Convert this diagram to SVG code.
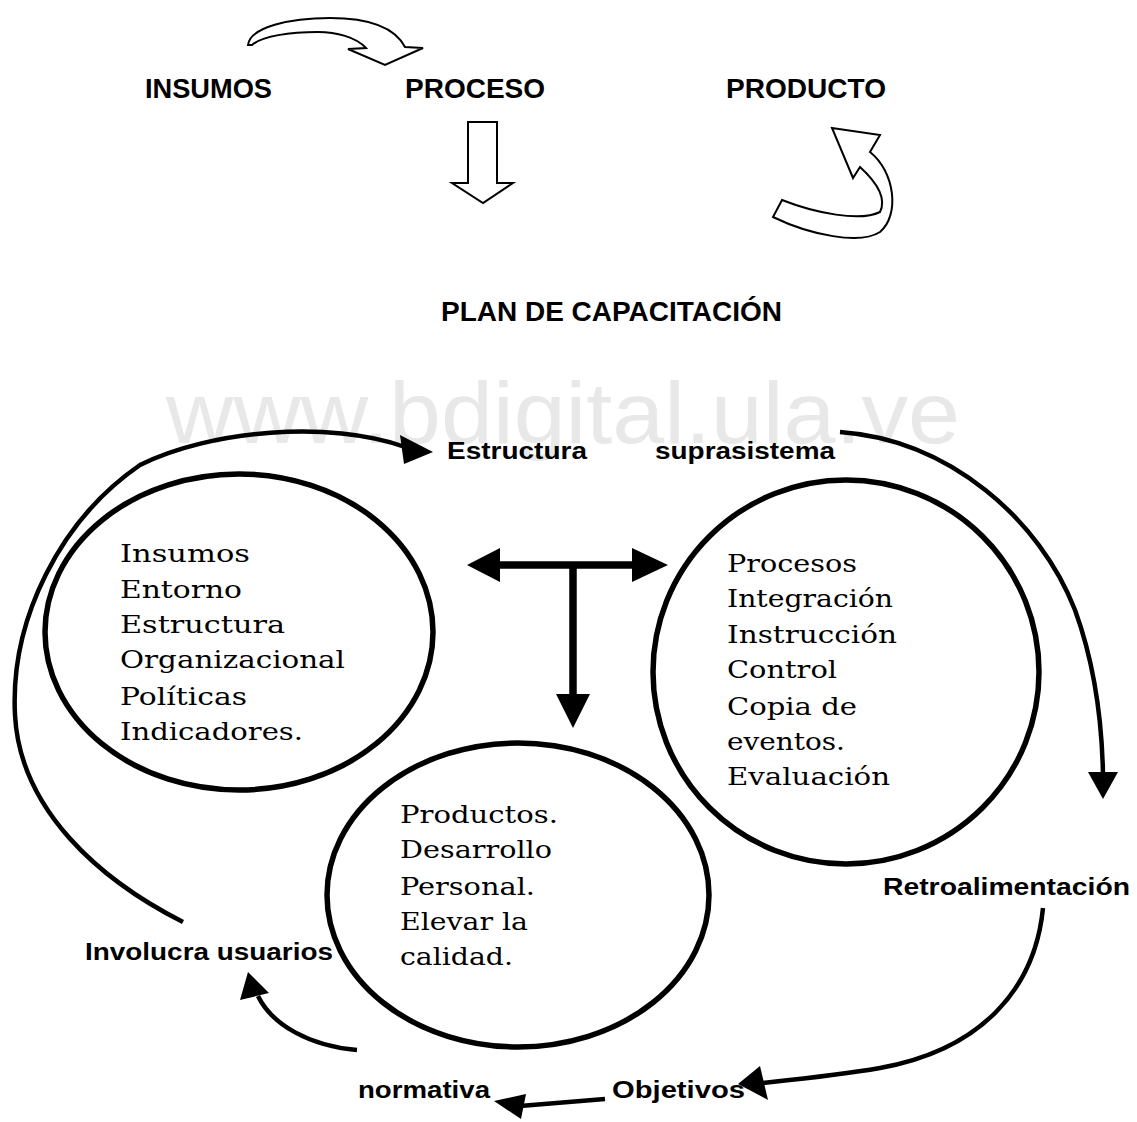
<svg xmlns="http://www.w3.org/2000/svg" width="1137" height="1122" viewBox="0 0 1137 1122">
  <style>
    .hdr { font-family: "Liberation Sans", Arial, sans-serif; font-weight: bold; font-size: 27px; fill: #000; }
    .lbl { font-family: "Liberation Sans", Arial, sans-serif; font-weight: bold; font-size: 23px; fill: #000; }
    .body { font-family: "DejaVu Serif", "Liberation Serif", serif; font-size: 25px; fill: #000; }
    .mark { font-family: "Liberation Sans", Arial, sans-serif; font-size: 88px; fill: #e8e8e8; }
    .ring { fill: none; stroke: #000; stroke-width: 5.5; }
    .hollow { fill: #fff; stroke: #000; stroke-width: 2; stroke-linejoin: miter; }
    .flow { fill: none; stroke: #000; stroke-width: 4.5; stroke-linecap: butt; }
    .bar { fill: none; stroke: #000; stroke-width: 7.5; }
    .head { fill: #000; stroke: none; }
  </style>

  <rect width="1137" height="1122" fill="#fff"/>

  <!-- watermark -->
  <text class="mark" x="166" y="443" textLength="794" lengthAdjust="spacingAndGlyphs">www.bdigital.ula.ve</text>

  <!-- header row: insumos / proceso / producto -->
  <g id="header">
    <text class="hdr" x="145" y="98" textLength="127" lengthAdjust="spacingAndGlyphs">INSUMOS</text>
    <text class="hdr" x="405" y="98" textLength="140" lengthAdjust="spacingAndGlyphs">PROCESO</text>
    <text class="hdr" x="726" y="98" textLength="160" lengthAdjust="spacingAndGlyphs">PRODUCTO</text>
    <!-- curved block arrow over the labels -->
    <path class="hollow" d="M248,45 C250,27 290,18 330,18 C370,18 395,28 405,47 L423,48 L385,65 L348,49 L366,48 C356,37 336,32 318,32 C290,32 262,36 252,45 Z"/>
    <!-- straight block arrow down -->
    <path class="hollow" d="M468,122 L497,122 L497,183 L513,183 L483,203 L452,183 L468,183 Z"/>
    <!-- curling block arrow under producto -->
    <path class="hollow" d="M782,200 C815,213 860,222 880,212 C888,196 872,178 860,167 L853,178 L832,128 L880,135 L870,152 C895,172 900,215 880,232 C860,245 810,235 773,217 Z"/>
  </g>

  <text id="title" class="hdr" x="441" y="321" font-size="25" textLength="341" lengthAdjust="spacingAndGlyphs">PLAN DE CAPACITACIÓN</text>

  <!-- node: insumos -->
  <g id="node-insumos">
    <ellipse class="ring" cx="239" cy="632" rx="194" ry="158"/>
    <text class="body" x="120" y="562" textLength="130" lengthAdjust="spacingAndGlyphs">Insumos</text>
    <text class="body" x="120" y="598" textLength="122" lengthAdjust="spacingAndGlyphs">Entorno</text>
    <text class="body" x="120" y="633" textLength="165" lengthAdjust="spacingAndGlyphs">Estructura</text>
    <text class="body" x="120" y="668" textLength="225" lengthAdjust="spacingAndGlyphs">Organizacional</text>
    <text class="body" x="120" y="705" textLength="127" lengthAdjust="spacingAndGlyphs">Políticas</text>
    <text class="body" x="120" y="740" textLength="183" lengthAdjust="spacingAndGlyphs">Indicadores.</text>
  </g>

  <!-- node: procesos -->
  <g id="node-procesos">
    <ellipse class="ring" cx="846" cy="672" rx="193" ry="192"/>
    <text class="body" x="727" y="572" textLength="130" lengthAdjust="spacingAndGlyphs">Procesos</text>
    <text class="body" x="727" y="607" textLength="166" lengthAdjust="spacingAndGlyphs">Integración</text>
    <text class="body" x="727" y="643" textLength="170" lengthAdjust="spacingAndGlyphs">Instrucción</text>
    <text class="body" x="727" y="678" textLength="110" lengthAdjust="spacingAndGlyphs">Control</text>
    <text class="body" x="727" y="715" textLength="130" lengthAdjust="spacingAndGlyphs">Copia de</text>
    <text class="body" x="727" y="750" textLength="118" lengthAdjust="spacingAndGlyphs">eventos.</text>
    <text class="body" x="727" y="785" textLength="163" lengthAdjust="spacingAndGlyphs">Evaluación</text>
  </g>

  <!-- node: productos -->
  <g id="node-productos">
    <ellipse class="ring" cx="518" cy="895" rx="191" ry="152"/>
    <text class="body" x="400" y="823" textLength="158" lengthAdjust="spacingAndGlyphs">Productos.</text>
    <text class="body" x="400" y="858" textLength="152" lengthAdjust="spacingAndGlyphs">Desarrollo</text>
    <text class="body" x="400" y="895" textLength="135" lengthAdjust="spacingAndGlyphs">Personal.</text>
    <text class="body" x="400" y="930" textLength="128" lengthAdjust="spacingAndGlyphs">Elevar la</text>
    <text class="body" x="400" y="965" textLength="113" lengthAdjust="spacingAndGlyphs">calidad.</text>
  </g>

  <!-- cycle labels -->
  <g id="labels">
    <text class="lbl" x="447" y="459" textLength="140" lengthAdjust="spacingAndGlyphs">Estructura</text>
    <text class="lbl" x="655" y="459" textLength="180" lengthAdjust="spacingAndGlyphs">suprasistema</text>
    <text class="lbl" x="883" y="895" textLength="247" lengthAdjust="spacingAndGlyphs">Retroalimentación</text>
    <text class="lbl" x="85" y="960" textLength="248" lengthAdjust="spacingAndGlyphs">Involucra usuarios</text>
    <text class="lbl" x="358" y="1098" textLength="132" lengthAdjust="spacingAndGlyphs">normativa</text>
    <text class="lbl" x="612" y="1098" textLength="133" lengthAdjust="spacingAndGlyphs">Objetivos</text>
  </g>

  <!-- connectors -->
  <g id="connectors">
    <!-- involucra usuarios -> estructura (outer loop) -->
    <path class="flow" d="M183,922 C100,880 20,810 15,715 C10,620 60,520 140,465 C210,430 330,420 405,447"/>
    <polygon class="head" points="433,452 400,435 404,464"/>
    <!-- suprasistema -> retroalimentacion -->
    <path class="flow" d="M840,432 C950,440 1040,520 1075,610 C1095,665 1102,720 1103,775"/>
    <polygon class="head" points="1103,799 1088,772 1118,772"/>
    <!-- retroalimentacion -> objetivos -->
    <path class="flow" d="M1043,908 C1035,990 980,1050 880,1068 C840,1075 800,1079 762,1083"/>
    <polygon class="head" points="738,1084 760,1066 768,1100"/>
    <!-- objetivos -> normativa -->
    <path class="flow" d="M605,1099 L520,1106"/>
    <polygon class="head" points="494,1101 526,1094 521,1119"/>
    <!-- normativa -> involucra usuarios -->
    <path class="flow" d="M357,1050 C310,1046 272,1025 258,996"/>
    <polygon class="head" points="248,972 240,1000 269,993"/>
    <!-- central T: insumos <-> procesos, down to productos -->
    <line class="bar" x1="498" y1="565" x2="634" y2="565"/>
    <polygon class="head" points="467,565 500,548 500,582"/>
    <polygon class="head" points="668,565 632,548 632,582"/>
    <line class="bar" x1="573" y1="565" x2="573" y2="697"/>
    <polygon class="head" points="556,694 590,694 573,728"/>
  </g>
</svg>
